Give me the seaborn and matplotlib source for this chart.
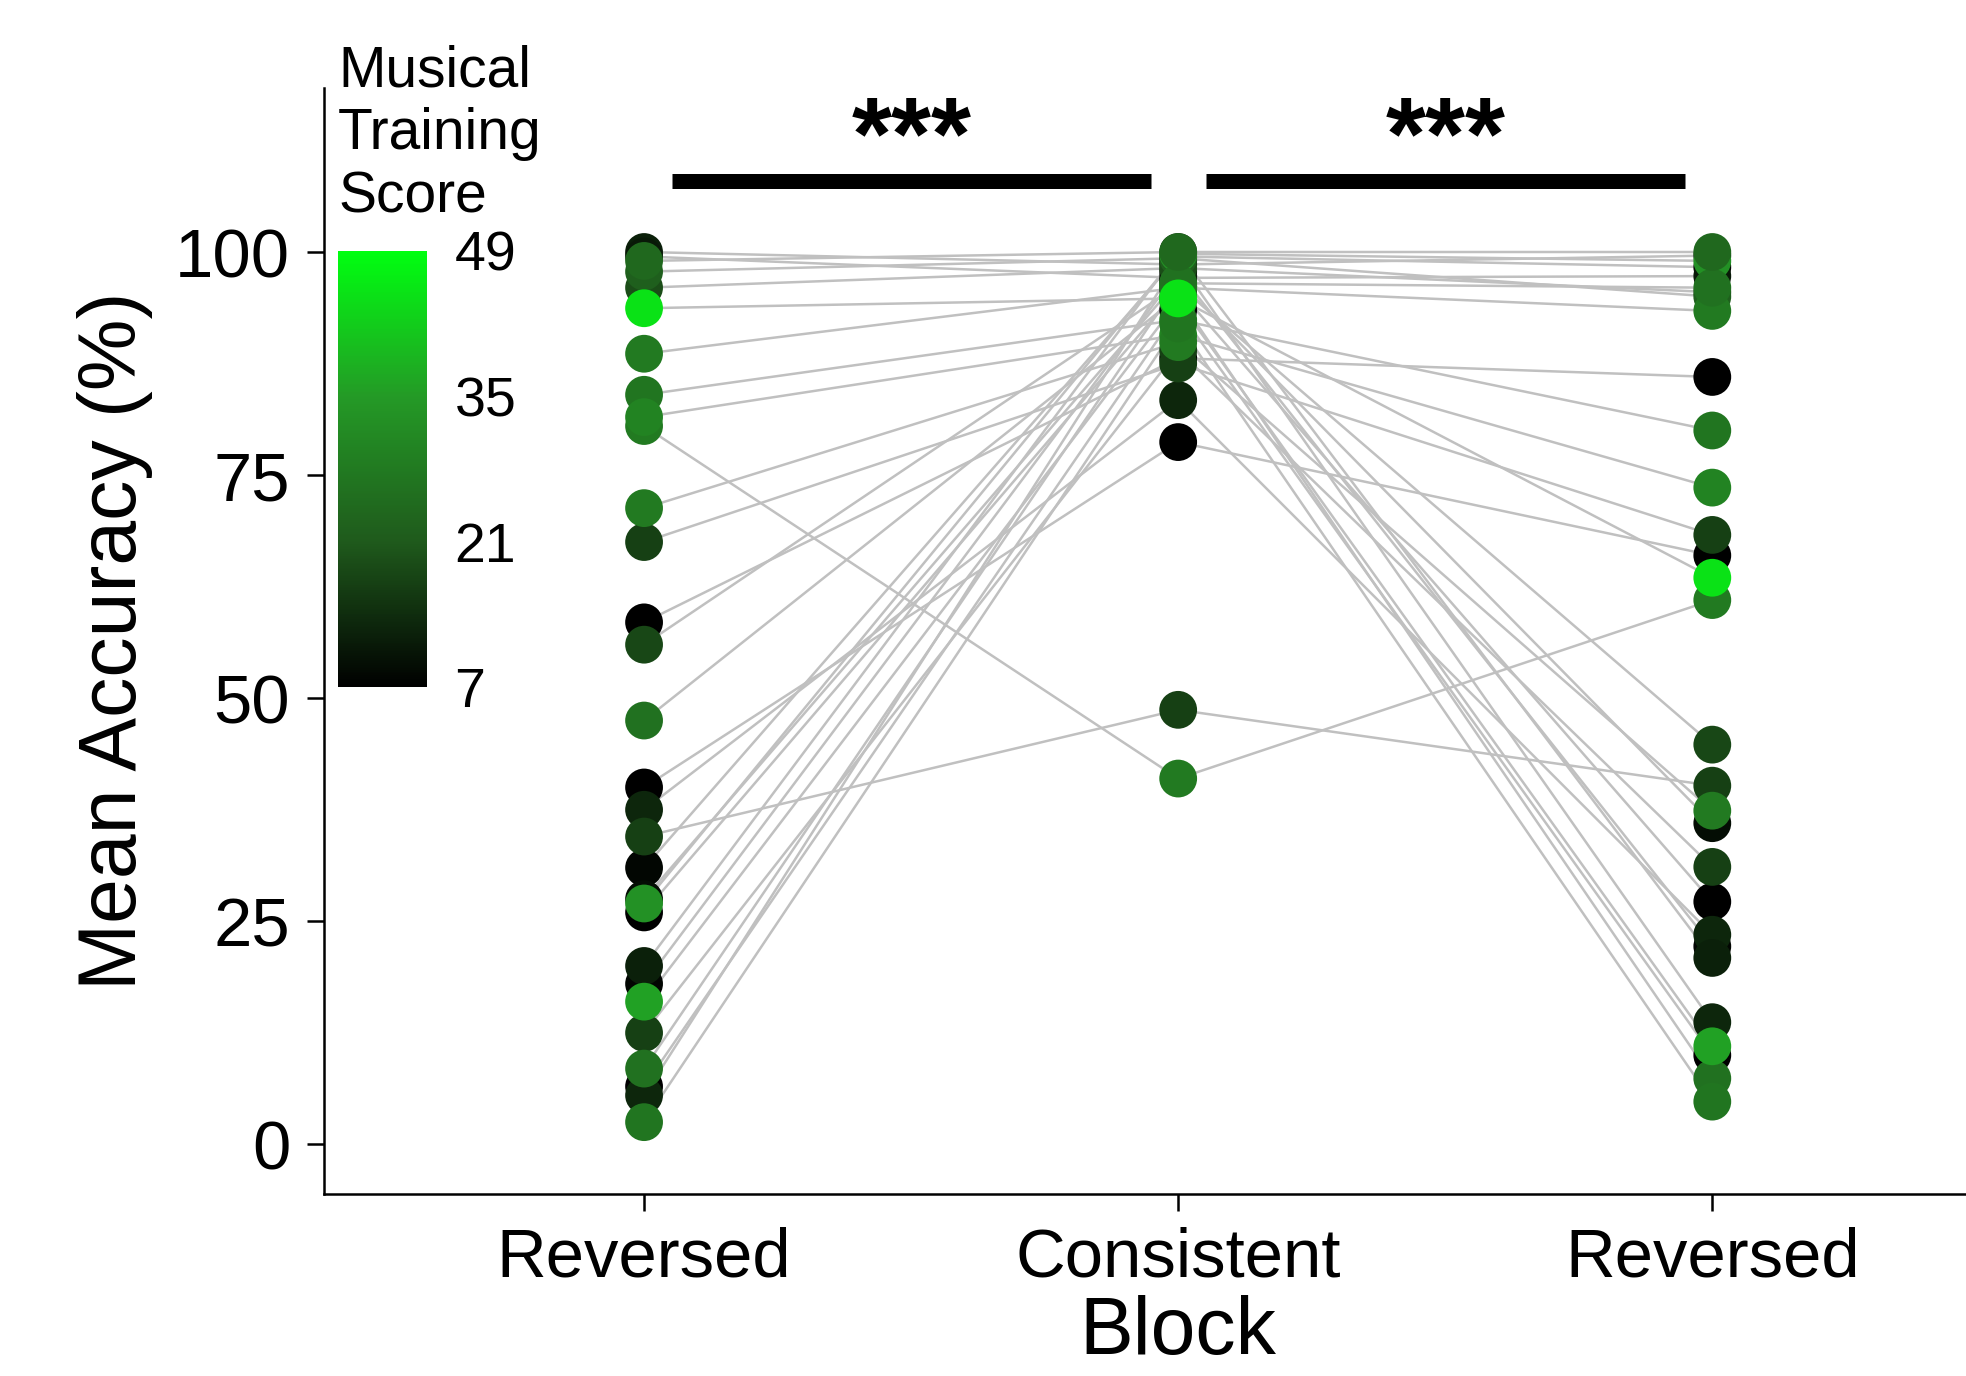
import numpy as np
import pandas as pd
import matplotlib
matplotlib.use("Agg")
import matplotlib.pyplot as plt
import seaborn as sns
from matplotlib.colors import LinearSegmentedColormap, Normalize
from matplotlib.cm import ScalarMappable

# -------------------------
# data
# -------------------------
block_labels = ["Reversed", "Consistent", "Reversed"]
score = [7, 7, 8, 9, 7, 8, 7,
         12, 11, 13, 12, 13,
         17, 19, 17, 18, 28, 17, 22,
         28, 27, 30, 28, 26, 33, 36, 26, 27, 45, 24]
rev1 = [58.5, 40.0, 31.0, 27.5, 26.0, 18.0, 6.5,
        100.0, 99.5, 37.5, 20.0, 5.5,
        34.5, 96.0, 67.5, 56.0, 80.5, 12.5, 97.8,
        88.6, 84.0, 81.5, 71.3, 47.5, 27.0, 16.0, 8.5, 2.5, 93.7, 99.0]
consistent = [88.1, 78.7, 99.5, 96.8, 95.8, 97.8, 93.5,
              98.6, 97.1, 83.4, 100.0, 99.0,
              48.7, 98.2, 87.5, 96.3, 41.0, 89.0, 99.3,
              96.0, 92.4, 90.7, 89.9, 95.0, 99.8, 94.5, 96.5, 92.0, 94.8, 100.0]
rev2 = [86.0, 66.0, 98.3, 36.0, 27.2, 22.2, 10.0,
        99.6, 97.3, 23.5, 20.9, 13.7,
        40.2, 95.5, 68.3, 44.8, 61.0, 31.1, 95.0,
        93.4, 80.0, 73.6, 37.4, 7.4, 99.0, 11.0, 96.0, 4.8, 63.5, 100.0]

n = len(score)
df = pd.DataFrame({
    "pid": np.repeat(np.arange(n), 3),
    "pos": np.tile([0, 1, 2], n),
    "acc": np.column_stack([rev1, consistent, rev2]).ravel(),
    "score": np.repeat(score, 3),
})

cmap = LinearSegmentedColormap.from_list(
    "mts", [(0, "#000000"), (1 / 3, "#1f5a1c"), (2 / 3, "#249a26"), (1, "#00ff10")])
norm = Normalize(7, 49)

sns.set_theme(style="ticks")
plt.rcParams["font.family"] = ["Liberation Sans", "DejaVu Sans"]

fig = plt.figure(figsize=(9.83, 6.88), dpi=200)
ax = fig.add_axes([0.1646, 0.1326, 0.8354, 0.8036])

# lines per participant
sns.lineplot(data=df, x="pos", y="acc", units="pid", estimator=None,
             color="#c0c0c0", lw=0.9, ax=ax, zorder=1)
# points coloured by musical training score
sns.scatterplot(data=df, x="pos", y="acc", hue="score", palette=cmap,
                hue_norm=norm, s=185, linewidth=0, legend=False,
                ax=ax, zorder=3)

xmin, xmax = -0.6, 2.475
ax.set_xlim(xmin, xmax)
ax.set_ylim(-5.5, 118.4)
ax.set_xticks([0, 1, 2])
ax.set_xticklabels(block_labels)
ax.set_yticks([0, 25, 50, 75, 100])
ax.tick_params(axis="both", labelsize=24.8, length=6, width=0.9, pad=6,
               color="black", labelcolor="black")
ax.set_xlabel("Block", fontsize=29, labelpad=10, color="black")
ax.xaxis.set_label_coords((1 - xmin) / (xmax - xmin), -0.092)
ax.set_ylabel("Mean Accuracy (%)", fontsize=29, labelpad=8, color="black")
for side in ["top", "right"]:
    ax.spines[side].set_visible(False)
for side in ["left", "bottom"]:
    ax.spines[side].set_linewidth(0.9)
    ax.spines[side].set_color("black")

# significance bars
for x0, x1 in [(0.052, 0.95), (1.053, 1.948)]:
    ax.plot([x0, x1], [107.9, 107.9], color="black", lw=5.4,
            solid_capstyle="butt", zorder=4)
    ax.text((x0 + x1) / 2, 109.3, "***", ha="center", va="baseline",
            fontsize=37, fontweight="bold", color="black")

# colourbar inset
cax = fig.add_axes([0.172, 0.5007, 0.045, 0.317])
cb = fig.colorbar(ScalarMappable(norm=norm, cmap=cmap), cax=cax,
                  ticks=[7, 21, 35, 49])
cb.outline.set_visible(False)
cax.tick_params(direction="in", color="white", length=8, width=0.8,
                left=True, right=True, labelsize=20, pad=10,
                labelcolor="black")
fig.text(0.172, 0.968, "Musical\nTraining\nScore", ha="left", va="top",
         fontsize=20.5, linespacing=1.22, color="black")

fig.savefig("out.png", dpi=200)
